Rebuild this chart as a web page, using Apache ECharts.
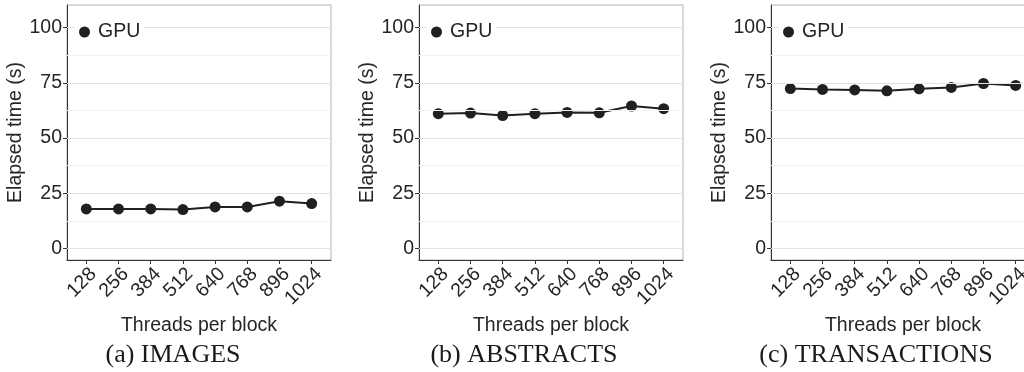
<!DOCTYPE html>
<html>
<head>
<meta charset="utf-8">
<script src="https://cdn.jsdelivr.net/npm/echarts@6/dist/echarts.min.js"></script>
<style>
  html, body { margin: 0; padding: 0; background: #fff; }
  #chart { width: 1024px; height: 372px; }
</style>
</head>
<body>
<div id="chart"></div>
<script>
const threads = ['128', '256', '384', '512', '640', '768', '896', '1024']
const imagesTime = [17.9, 17.9, 17.9, 17.6, 18.8, 18.8, 21.4, 20.3]
const abstractsTime = [61.0, 61.3, 60.2, 61.0, 61.6, 61.4, 64.5, 63.3]
const transactionsTime = [72.4, 72.0, 71.8, 71.4, 72.3, 72.9, 74.7, 73.8]
const yTicks = [0, 25, 50, 75, 100]
const yMinorTicks = [12.5, 37.5, 62.5, 87.5]
const captions = ['(a) IMAGES', '(b) ABSTRACTS', '(c) TRANSACTIONS']
const seriesName = 'GPU'

const panels = [imagesTime, abstractsTime, transactionsTime]
const panelLeft = [67, 419, 771]
const captionX = [173, 524, 876]

const sans = 'Liberation Sans'
const ink = '#231f20'
const textInk = '#262626'

const chart = echarts.init(document.getElementById('chart'))

const grid = panelLeft.map(left => ({
  left: left,
  top: 5,
  width: 264,
  height: 255,
  show: true,
  borderColor: '#b3b3b3',
  borderWidth: 1,
  backgroundColor: '#fff',
  outerBoundsMode: 'none'
}))

const xAxis = panels.map((_, i) => ({
  type: 'value',
  gridIndex: i,
  min: -0.6,
  max: 7.6,
  name: 'Threads per block',
  nameLocation: 'middle',
  nameGap: 49,
  nameTextStyle: {fontFamily: sans, fontSize: 19.5, color: textInk},
  axisLine: {show: true, onZero: false, lineStyle: {color: '#333', width: 1}},
  axisTick: {show: true, length: 4, lineStyle: {color: '#333'}, customValues: threads.map((t, k) => k)},
  axisLabel: {
    customValues: threads.map((t, k) => k),
    formatter: v => threads[Math.round(v)],
    rotate: 45,
    align: 'right',
    verticalAlign: 'top',
    margin: 4,
    fontFamily: sans,
    fontSize: 19.5,
    color: textInk
  },
  splitLine: {show: false}
}))

const yAxis = panels.map((_, i) => ({
  type: 'value',
  gridIndex: i,
  min: -5.25,
  max: 110.25,
  name: 'Elapsed time (s)',
  nameLocation: 'middle',
  nameGap: 40,
  nameTextStyle: {fontFamily: sans, fontSize: 19.5, color: textInk},
  axisLine: {show: true, onZero: false, lineStyle: {color: '#333', width: 1}},
  axisTick: {show: true, length: 4, lineStyle: {color: '#333'}, customValues: yTicks},
  axisLabel: {customValues: yTicks, margin: 5, fontFamily: sans, fontSize: 19.5, color: textInk},
  splitLine: {show: false}
}))

const gridLines = panels.map((_, i) => ({
  type: 'line',
  name: 'grid' + i,
  xAxisIndex: i,
  yAxisIndex: i,
  data: [],
  z: 0,
  silent: true,
  markLine: {
    silent: true,
    symbol: 'none',
    label: {show: false},
    animation: false,
    data: [
      ...yMinorTicks.map(v => ({yAxis: v, lineStyle: {color: '#f2f2f2', width: 1, type: 'solid'}})),
      ...yTicks.map(v => ({yAxis: v, lineStyle: {color: '#e3e3e3', width: 1, type: 'solid'}}))
    ]
  }
}))

const lines = panels.map((vals, i) => ({
  type: 'line',
  name: seriesName,
  xAxisIndex: i,
  yAxisIndex: i,
  data: vals.map((v, k) => [k, v]),
  z: 3,
  symbol: 'circle',
  symbolSize: 11,
  itemStyle: {color: ink},
  lineStyle: {color: ink, width: 2},
  animation: false
}))

// white key box on its own layer so the 100 grid line stops behind it
const legend = panelLeft.map(left => ({
  data: [seriesName],
  left: left + 8,
  top: 16,
  padding: [6, 4, 6, 4],
  backgroundColor: '#fff',
  zlevel: 1,
  icon: 'circle',
  itemWidth: 11,
  itemHeight: 11,
  selectedMode: false,
  textStyle: {fontFamily: sans, fontSize: 19.5, color: textInk, padding: [0, 0, 0, 3]}
}))

chart.setOption({
  animation: false,
  grid,
  xAxis,
  yAxis,
  legend,
  series: [...gridLines, ...lines],
  graphic: captions.map((text, i) => ({
    type: 'text',
    x: captionX[i],
    y: 355,
    style: {
      text: text,
      fontFamily: 'Liberation Serif',
      fontSize: 26,
      fill: '#1a1a1a',
      align: 'center',
      verticalAlign: 'middle'
    }
  }))
})
</script>
</body>
</html>
